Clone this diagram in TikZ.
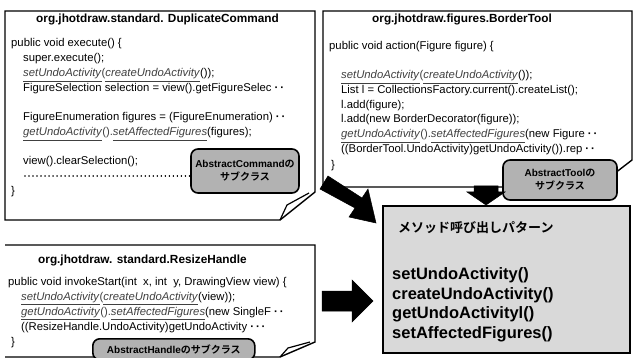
\documentclass[tikz,border=0pt]{standalone}
\usepackage{fontspec}
\setmainfont{Liberation Sans}
\newfontfamily\jp{Noto Sans CJK JP}[BoldFont={* Bold}]
\newcommand\uit[1]{\underline{\textit{#1}}}
\newcommand\dd{\;{\bfseries ·\,·}}
\begin{document}
\begin{tikzpicture}[x=1pt,y=-1pt,
  codebox/.style={line width=1.4pt},
  fold/.style={line width=1.2pt},
  code/.style={anchor=base west,inner sep=0pt,font=\fontsize{11.3}{13}\selectfont},
  ttl/.style={anchor=base west,inner sep=0pt,font=\fontsize{11.8}{13}\selectfont\bfseries},
  callout/.style={draw,line width=1.6pt,rounded corners=7pt,fill=black!30,align=center,
    inner sep=2pt,font=\fontsize{10}{13}\selectfont\bfseries},
  meth/.style={anchor=base west,inner sep=0pt,font=\fontsize{16.5}{18}\selectfont\bfseries},
  blockarrow/.style={fill=black,draw=black,line width=0.5pt}]
\useasboundingbox (0,0) rectangle (634,358);
% ---------- box 1
\draw[codebox,fill=white] (5,11) -- (315,11) -- (315,192) -- (280,220) -- (5,220) -- cycle;
\draw[fold] (280,220) -- (287,205) -- (309,193);
\node[ttl] (t1) at (36,23) {org.jhotdraw.standard. DuplicateCommand};
\node[code] (a1) at (11,47) {public void execute() \{};
\node[code] (a2) at (23,62) {super.execute();};
\node[code] (a3) at (23,77) {{\color{black!75}\uit{setUndoActivity}(\uit{createUndoActivity}}());};
\node[code] (a4) at (23,92) {FigureSelection selection = view().getFigureSelec\dd};
\node[code] (a5) at (23,121) {FigureEnumeration figures = (FigureEnumeration)\dd};
\node[code] (a6) at (23,136) {{\color{black!75}\uit{getUndoActivity}().\uit{setAffectedFigures}}(figures);};
\node[code] (a7) at (23,165) {view().clearSelection();};
\draw[line width=1.6pt,dash pattern=on 0.01pt off 4pt,line cap=round] (25,176) -- (190,176);
\node[code] (a8) at (11,195) {\}};
\node[callout,minimum width=108pt,minimum height=44pt] (c1) at (245,171) {AbstractCommand{\jp の}\\{\jp サブクラス}};
% ---------- box 2
\draw[codebox,fill=white] (323,11) -- (632,11) -- (632,160) -- (597,187) -- (323,187) -- cycle;
\node[ttl] (t2) at (372,23) {org.jhotdraw.figures.BorderTool};
\node[code] (b1) at (329,50) {public void action(Figure figure) \{};
\node[code] (b2) at (341,79) {{\color{black!75}\uit{setUndoActivity}(\uit{createUndoActivity}}());};
\node[code] (b3) at (341,94) {List l = CollectionsFactory.current().createList();};
\node[code] (b4) at (341,109) {l.add(figure);};
\node[code] (b5) at (341,123) {l.add(new BorderDecorator(figure));};
\node[code] (b6) at (341,138) {{\color{black!75}\uit{getUndoActivity}().\uit{setAffectedFigures}}(new Figure\dd};
\node[code] (b7) at (341,153) {((BorderTool.UndoActivity)getUndoActivity()).rep\dd};
\node[code] (b8) at (331,169) {\}};
\node[callout,minimum width=114pt,minimum height=40pt] (c2) at (560,180) {AbstractTool{\jp の}\\{\jp サブクラス}};
% ---------- box 3
\draw[codebox,fill=white] (5,245) -- (315,245) -- (315,342) -- (280,357) -- (5,357);
\draw[fold] (280,357) -- (288,348) -- (310,342);
\node[ttl] (t3) at (38,263) {org.jhotdraw. standard.ResizeHandle};
\node[code] (d1) at (8,285) {public void invokeStart(int\ \ x, int\ \ y, DrawingView view) \{};
\node[code] (d2) at (21,300) {{\color{black!75}\uit{setUndoActivity}(\uit{createUndoActivity}}(view));};
\node[code] (d3) at (21,315) {{\color{black!75}\uit{getUndoActivity}().\uit{setAffectedFigures}}(new SingleF\dd};
\node[code] (d4) at (21,330) {((ResizeHandle.UndoActivity)getUndoActivity\dd\,{\bfseries ·}};
\node[code] (d5) at (11,345) {\}};
\node[callout,anchor=north west,minimum width=162pt,minimum height=21pt,inner sep=1pt] (c3) at (92,338) {AbstractHandle{\jp のサブクラス}};
% ---------- pattern box
\draw[line width=1.4pt,fill=black!15] (383,206) rectangle (630,353);
\node[anchor=base west,inner sep=0pt,font=\jp\fontsize{13}{15}\selectfont\bfseries] (p0) at (398,233) {メソッド呼び出しパターン};
\node[meth] (p1) at (392,279) {setUndoActivity()};
\node[meth] (p2) at (392,299) {createUndoActivity()};
\node[meth] (p3) at (392,318) {getUndoActivityl()};
\node[meth] (p4) at (392,338) {setAffectedFigures()};
% ---------- block arrows
\fill[blockarrow] (320,189) -- (328,176) -- (362,198) -- (368,189) -- (376,223) -- (349,217) -- (355,208) -- cycle;
\fill[blockarrow] (322,291) -- (352,291) -- (352,280) -- (373,301) -- (352,322) -- (352,311) -- (322,311) -- cycle;
\fill[blockarrow] (474,186) -- (498,186) -- (498,192) -- (505,192) -- (486,205) -- (467,192) -- (474,192) -- cycle;
\end{tikzpicture}
\end{document}
